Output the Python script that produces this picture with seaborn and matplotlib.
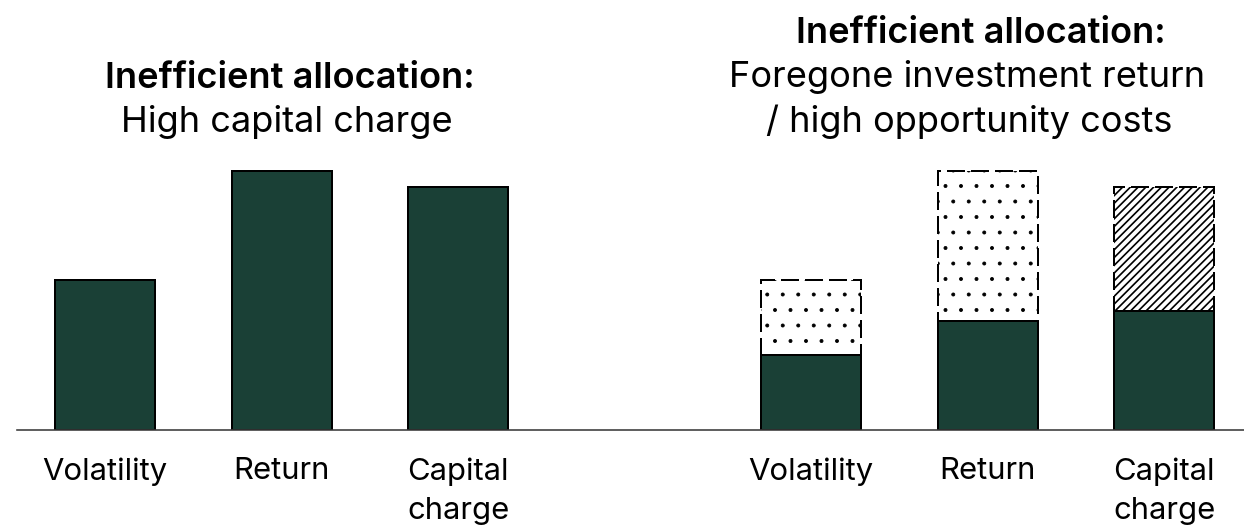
import matplotlib
matplotlib.use("Agg")
import matplotlib.pyplot as plt
import seaborn as sns

# Risk profile categories shown in both scenarios
categories = ["Volatility", "Return", "Capital\ncharge"]

# Scenario 1: inefficient allocation with a high capital charge
high_charge_values = [58, 100, 94]

# Scenario 2: allocation held vs. foregone part (return / opportunity cost)
held_values = [29, 42, 46]
foregone_values = [29, 58, 48]
foregone_hatches = [".", ".", "////"]
hatch_widths = [0.6, 0.6, 1.3]

left_positions = [0, 1, 2]
right_positions = [4, 5, 6]

title_left = ["Inefficient allocation:", "High capital charge"]
title_right = ["Inefficient allocation:", "Foregone investment return",
               "/ high opportunity costs"]

W, H, DPI = 1244, 527, 93
BAR_COLOR = "#1a4036"

sns.set_style("white")
plt.rcParams["font.family"] = ["Inter", "DejaVu Sans"]
plt.rcParams["text.color"] = "black"
plt.rcParams["xtick.color"] = "black"
plt.rcParams["hatch.linewidth"] = 0.6

fig = plt.figure(figsize=(W / DPI, H / DPI), dpi=DPI)
base_px, top_px = 430, 160
ax = fig.add_axes([17 / W, (H - base_px) / H, 1 - 17 / W, (base_px - top_px) / H])

bar_w = 100 / 176.5
edge_lw = 2.0 * 72 / DPI

# Dashed, hatched outline for the total (held + foregone) in scenario 2
totals = [h + f for h, f in zip(held_values, foregone_values)]
sns.barplot(x=right_positions, y=totals, native_scale=True, width=bar_w,
            color="white", saturation=1, edgecolor="black", linewidth=edge_lw,
            linestyle=(0, (9, 3)), zorder=2, ax=ax)
for patch, hatch, hw in zip(ax.patches, foregone_hatches, hatch_widths):
    patch.set_hatch(hatch)
    if hasattr(patch, "set_hatch_linewidth"):
        patch.set_hatch_linewidth(hw)

# Solid bars: scenario 1 and the held part of scenario 2
sns.barplot(x=left_positions + right_positions,
            y=high_charge_values + held_values,
            native_scale=True, width=bar_w, color=BAR_COLOR, saturation=1,
            edgecolor="black", linewidth=edge_lw, zorder=3, ax=ax)

ax.set_xlim(-0.4986, 6.453)
ax.set_ylim(0, (base_px - top_px) / 2.59)
ax.set_xticks(left_positions + right_positions)
ax.set_xticklabels(categories * 2, fontsize=24, linespacing=1.5)
ax.tick_params(axis="x", length=0, pad=21, colors="black")
ax.set_yticks([])
ax.set_xlabel("")
ax.set_ylabel("")
for side in ["left", "right", "top"]:
    ax.spines[side].set_visible(False)
ax.spines["bottom"].set_color("#3a3a3a")
ax.spines["bottom"].set_linewidth(1.6 * 72 / DPI)
ax.spines["bottom"].set_zorder(4)

# Scenario titles: bold heading line followed by regular lines
def draw_title(lines, xs_px, baselines_px):
    for i, (line, x_px, y_px) in enumerate(zip(lines, xs_px, baselines_px)):
        fig.text(x_px / W, 1 - y_px / H, line, ha="center", va="baseline",
                 fontsize=28, color="black",
                 fontweight="semibold" if i == 0 else "normal")

draw_title(title_left, [289.5, 286.5], [87.5, 132])
draw_title(title_right, [981, 967.5, 969], [43, 87.5, 132])

fig.savefig("out.png", dpi=DPI)
